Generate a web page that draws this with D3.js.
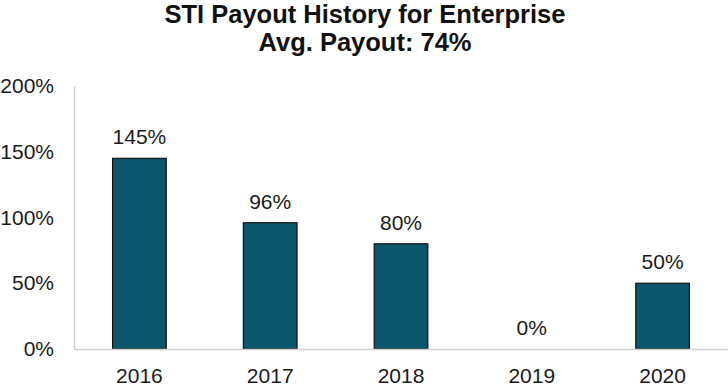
<!DOCTYPE html>
<html>
<head>
<meta charset="utf-8">
<script src="https://cdn.jsdelivr.net/npm/d3@7"></script>
<style>
  body { margin: 0; background: #fff; }
  svg { display: block; font-family: "Liberation Sans", Arial, sans-serif; }
</style>
</head>
<body>
<svg class="chart"></svg>
<script>
const years = ["2016", "2017", "2018", "2019", "2020"];
const payouts = [145, 96, 80, 0, 50];
const yTicks = [0, 50, 100, 150, 200];
const titleLines = ["STI Payout History for Enterprise", "Avg. Payout: 74%"];

const W = 728, H = 391;
const margin = { top: 86, right: 0, bottom: 42, left: 74 };
const width = W - margin.left - margin.right,
      height = H - margin.top - margin.bottom;
const fontSize = 21;

const root = d3.select(".chart").attr("width", W).attr("height", H);

root.append("text")
    .attr("text-anchor", "middle")
    .attr("font-weight", "bold")
    .attr("font-size", 25.5)
    .attr("fill", "#111")
    .selectAll("tspan")
    .data(titleLines)
    .enter().append("tspan")
    .attr("x", 365)
    .attr("y", (d, i) => 23 + i * 28)
    .text(d => d);

const svg = root.append("g")
    .attr("transform", `translate(${margin.left}, ${margin.top})`);

const x = d3.scaleBand()
    .domain(years)
    .range([0, width])
    .paddingInner(0.59)
    .paddingOuter(0.295);

const y = d3.scaleLinear()
    .domain([0, 200])
    .range([height, 0]);

// y axis
const yAxis = svg.append("g")
    .call(d3.axisLeft(y).tickValues(yTicks).tickSize(0).tickPadding(20).tickFormat(d => d + "%"));
yAxis.select(".domain").attr("stroke", "#cfcfcf").attr("stroke-width", 1.5);
yAxis.selectAll("text").attr("font-size", fontSize).attr("fill", "#1a1a1a").attr("font-family", "Liberation Sans, Arial, sans-serif");

// bars
svg.selectAll(".bar")
    .data(years)
    .enter().append("rect")
    .attr("class", "bar")
    .attr("x", d => x(d))
    .attr("y", (d, i) => y(payouts[i]))
    .attr("width", x.bandwidth())
    .attr("height", (d, i) => height - y(payouts[i]))
    .attr("fill", "#0c566b")
    .attr("stroke", "#111")
    .attr("stroke-width", 1.2);

// x axis
const xAxis = svg.append("g")
    .attr("transform", `translate(0, ${height})`)
    .call(d3.axisBottom(x).tickSize(0).tickPadding(19));
xAxis.select(".domain").attr("stroke", "#cfcfcf").attr("stroke-width", 1.5);
xAxis.selectAll("text").attr("font-size", fontSize).attr("fill", "#1a1a1a").attr("font-family", "Liberation Sans, Arial, sans-serif");

// value labels
svg.selectAll(".label")
    .data(years)
    .enter().append("text")
    .attr("class", "label")
    .attr("x", d => x(d) + x.bandwidth() / 2)
    .attr("y", (d, i) => y(payouts[i]) - 14)
    .attr("text-anchor", "middle")
    .attr("font-size", fontSize)
    .attr("fill", "#1a1a1a")
    .text((d, i) => payouts[i] + "%");
</script>
</body>
</html>
